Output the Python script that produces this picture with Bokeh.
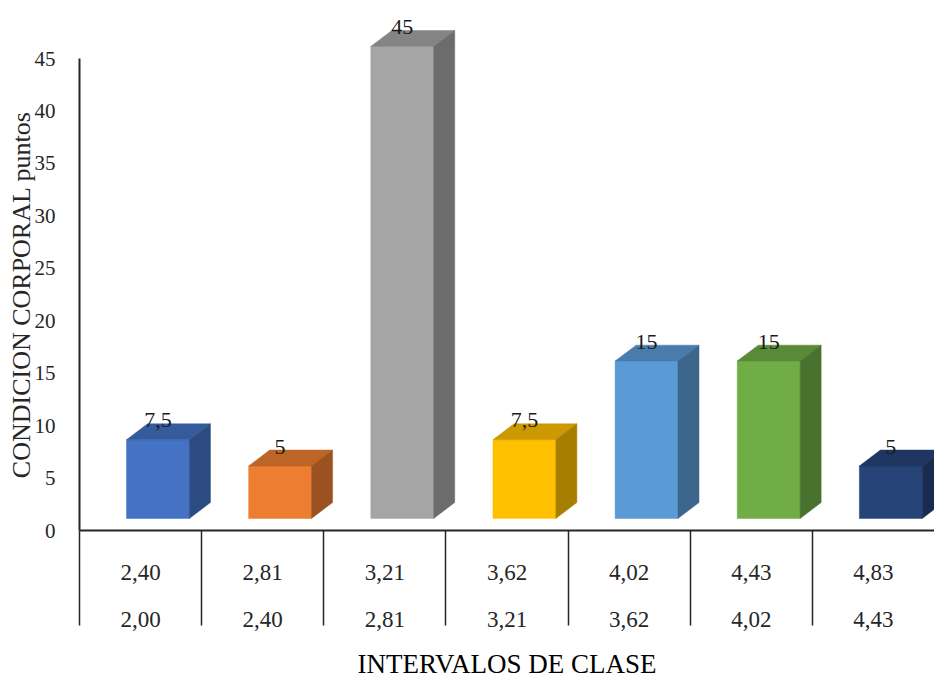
from bokeh.plotting import figure
from bokeh.models import Range1d, FixedTicker, LinearAxis
from bokeh.core.properties import value
from bokeh.embed import file_html
from bokeh.resources import INLINE

# ---- data ----
interval_upper = ["2,40", "2,81", "3,21", "3,62", "4,02", "4,43", "4,83"]
interval_lower = ["2,00", "2,40", "2,81", "3,21", "3,62", "4,02", "4,43"]
values = [7.5, 5, 45, 7.5, 15, 15, 5]
value_labels = ["7,5", "5", "45", "7,5", "15", "15", "5"]
y_ticks = [0, 5, 10, 15, 20, 25, 30, 35, 40, 45]

# ---- styles ----
front_colors = ["#4472C4", "#ED7D31", "#A5A5A5", "#FFC000", "#5B9BD5", "#70AD47", "#264478"]
FONT = "Liberation Serif"
AXIS_COLOR = "#262626"


def shade(hex_color, f):
    h = hex_color.lstrip("#")
    r, g, b = (int(h[i:i + 2], 16) for i in (0, 2, 4))
    return "#%02x%02x%02x" % (int(r * f), int(g * f), int(b * f))


top_colors = [shade(c, 0.80) for c in front_colors]
side_colors = [shade(c, 0.66) for c in front_colors]

# 3D geometry (in data units)
FRONT_LEFT = 0.385   # offset of front face inside its category
FRONT_W = 0.515      # width of front face
DEPTH_X = 0.172      # depth shift to the right
DEPTH_Y = 1.52       # depth shift upwards
FLOOR = 1.15         # front face bottom raised above the axis
SEP_LEN = 95         # separator length below the axis (px)

n = len(values)
p = figure(width=934, height=685,
           x_range=Range1d(0, n), y_range=Range1d(0, 50.53),
           output_backend="svg", toolbar_location=None,
           x_axis_location=None, y_axis_location="left",
           min_border_left=79, min_border_right=0,
           min_border_top=0, min_border_bottom=155)
p.grid.visible = False
p.outline_line_color = None
p.background_fill_color = "white"
p.border_fill_color = "white"

# ---- y axis ----
ya = p.yaxis[0]
ya.ticker = FixedTicker(ticks=y_ticks)
ya.bounds = (0, 45)
ya.major_tick_in = 0
ya.major_tick_out = 0
ya.minor_tick_line_color = None
ya.major_label_standoff = 24
ya.axis_line_width = 2
ya.axis_line_color = AXIS_COLOR
ya.major_label_text_font = FONT
ya.major_label_text_font_size = "21px"
ya.major_label_text_color = "#262626"
ya.axis_label = "CONDICION CORPORAL  puntos" + "\u00a0" * 8
ya.axis_label_standoff = -4
ya.axis_label_text_font = FONT
ya.axis_label_text_font_size = "26px"
ya.axis_label_text_font_style = "normal"
ya.axis_label_text_color = "#262626"

# ---- x axes (two label rows + separators) ----
centers = [i + 0.5 for i in range(n)]
boundaries = [float(i) for i in range(n)]

ax1 = LinearAxis(
    ticker=FixedTicker(ticks=centers, minor_ticks=boundaries),
    major_label_overrides={c: lab for c, lab in zip(centers, interval_upper)},
    major_tick_in=0, major_tick_out=0,
    minor_tick_in=0, minor_tick_out=SEP_LEN,
    minor_tick_line_color=AXIS_COLOR, minor_tick_line_width=1.5,
    axis_line_color=AXIS_COLOR, axis_line_width=2,
    major_label_standoff=34 - SEP_LEN,
    major_label_text_font=FONT, major_label_text_font_size="23px",
    major_label_text_color="#262626",
)
p.add_layout(ax1, "below")

ax2 = LinearAxis(
    ticker=FixedTicker(ticks=centers),
    major_label_overrides={c: lab for c, lab in zip(centers, interval_lower)},
    bounds=(0, 6.62),
    major_tick_line_color=None, minor_tick_line_color=None,
    axis_line_color=None,
    major_label_standoff=23,
    major_label_text_font=FONT, major_label_text_font_size="23px",
    major_label_text_color="#262626",
    axis_label="INTERVALOS DE CLASE",
    axis_label_standoff=19,
    axis_label_text_font=FONT, axis_label_text_font_size="27px",
    axis_label_text_font_style="normal", axis_label_text_color="black",
)
p.add_layout(ax2, "below")

# ---- 3D bars ----
lefts = [i + FRONT_LEFT for i in range(n)]
rights = [l + FRONT_W for l in lefts]
tops = [FLOOR + v for v in values]

p.quad(left=lefts, right=rights, bottom=[FLOOR] * n, top=tops,
       fill_color=front_colors, line_color=front_colors, line_width=0.5)

top_xs = [[l, r, r + DEPTH_X, l + DEPTH_X] for l, r in zip(lefts, rights)]
top_ys = [[t, t, t + DEPTH_Y, t + DEPTH_Y] for t in tops]
p.patches(top_xs, top_ys, fill_color=top_colors, line_color=top_colors, line_width=0.5)

side_xs = [[r, r + DEPTH_X, r + DEPTH_X, r] for r in rights]
side_ys = [[FLOOR, FLOOR + DEPTH_Y, t + DEPTH_Y, t] for t in tops]
p.patches(side_xs, side_ys, fill_color=side_colors, line_color=side_colors, line_width=0.5)

# data labels
p.text(x=[l + FRONT_W / 2 for l in lefts], y=[t + DEPTH_Y - 0.35 for t in tops],
       text=value_labels, text_font=value(FONT), text_font_size="22px",
       text_align="center", text_baseline="bottom", text_color="#1a1a1a")

open("out.html", "w").write(file_html(p, INLINE))
